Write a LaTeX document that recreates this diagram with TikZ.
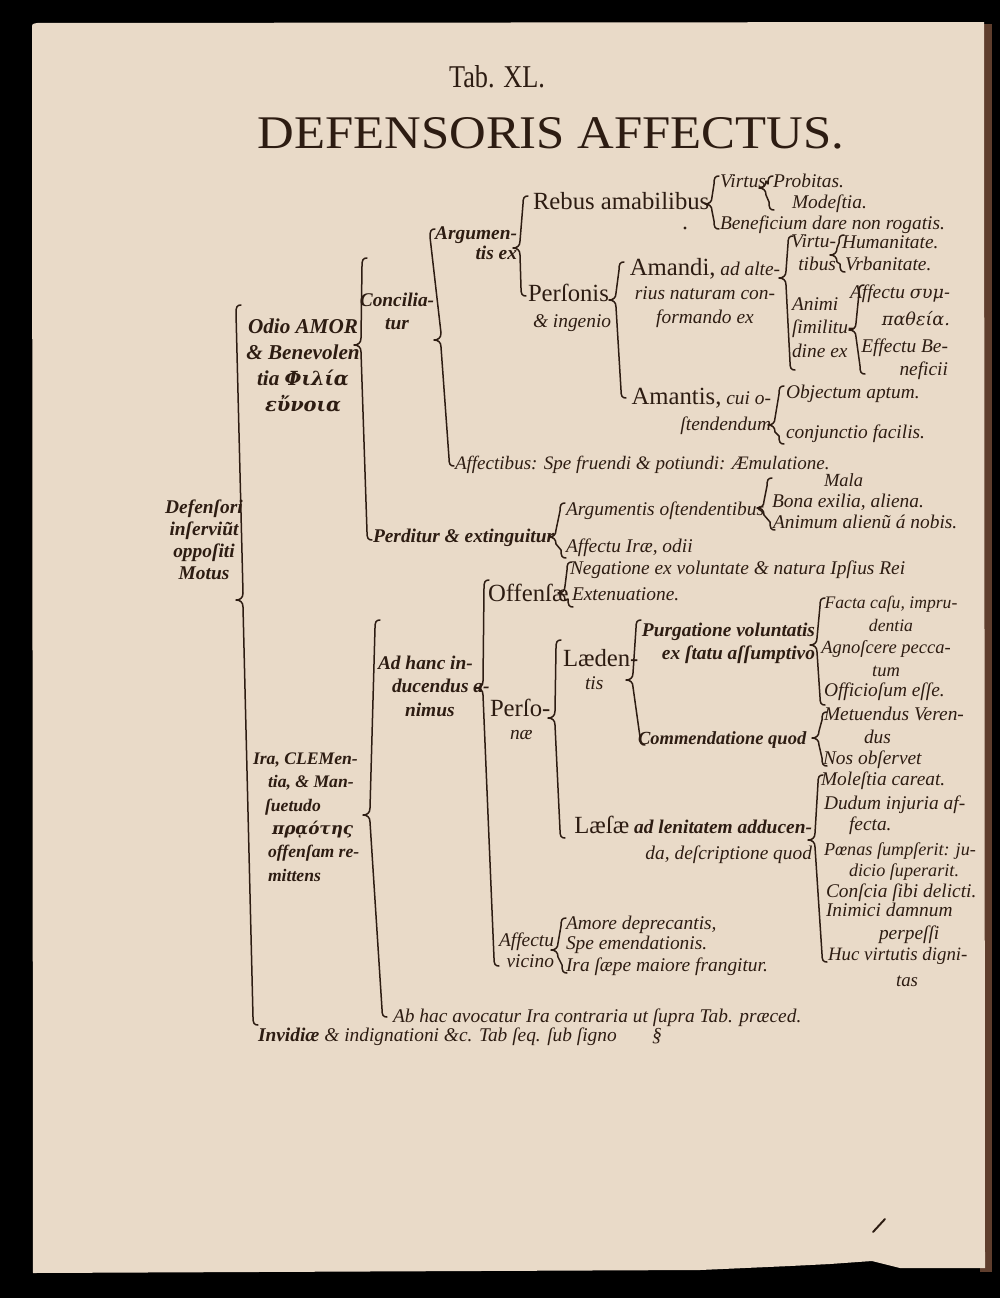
\documentclass[tikz,border=0pt]{standalone}
\usepackage{fontspec}
\usepackage{graphicx}
\setmainfont{Liberation Serif}
\newfontfamily\grk{DejaVu Serif}
\definecolor{paper}{RGB}{233,218,200}
\definecolor{ink}{RGB}{45,28,18}
\definecolor{edge}{RGB}{95,62,45}
\newdimen\px \px=0.5669pt
% brace: xt yt xm ym xb yb
\newcommand\brc[6]{%
\draw[brc] (#1+5,#2) .. controls (#1+1,#2) and (#1,#2+2) .. (#1,#2+8) -- (#3,#4-7)
 .. controls (#3,#4-2) and (#3-3,#4) .. (#3-7,#4)
 .. controls (#3-3,#4) and (#3,#4+2) .. (#3,#4+7) -- (#5,#6-8)
 .. controls (#5,#6-2) and (#5+1,#6) .. (#5+5,#6);}
\begin{document}
\begin{tikzpicture}[x=0.5669pt,y=-0.5669pt,
  t/.style={inner sep=0pt,outer sep=0pt,text=ink,anchor=base west},
  it/.style={t,font=\fontsize{11}{12.5}\selectfont\itshape},
  bi/.style={t,font=\fontsize{11}{12.5}\selectfont\bfseries\itshape},
  up/.style={t,font=\fontsize{14}{14.2}\selectfont},
  brc/.style={draw=ink,line width=0.85pt,line cap=round,line join=round}]
\useasboundingbox (0,0) rectangle (1000,1298);
\fill[black] (0,0) rectangle (1000,1298);
\fill[edge] (980,24) rectangle (992,1272);
\fill[paper] (32,28) .. controls (32,24) .. (37,23) -- (984,22) -- (985,1268)
  -- (900,1268) -- (872,1261) -- (830,1264) -- (790,1266) -- (700,1270) -- (33,1273) -- cycle;
% small marks on the page
\fill[ink] (685,228) circle (1.6);
\draw[ink,line width=1.1pt,line cap=round] (873,1232) -- (885,1219);

% title
\node[t,anchor=base] (tab) at (497,87) {\resizebox{96\px}{22\px}{Tab. XL.}};
\node[t,anchor=base] (title) at (551,148) {\resizebox{587\px}{31\px}{DEFENSORIS AFFECTUS.}};

% braces
\brc{236}{305}{243}{600}{253}{1025}
\brc{362}{258}{361}{345}{367}{540}
\brc{430}{229}{441}{340}{449}{466}
\brc{523}{196}{520}{248}{521}{296}
\brc{714}{176}{712}{204}{714}{229}
\brc{768}{176}{766}{188}{769}{210}
\brc{619}{262}{616}{300}{621}{398}
\brc{788}{236}{786}{278}{790}{370}
\brc{839}{235}{837}{255}{840}{272}
\brc{859}{285}{856}{330}{860}{374}
\brc{779}{386}{775}{425}{779}{444}
\brc{560}{503}{556}{537}{561}{558}
\brc{767}{478}{764}{508}{770}{530}
\brc{567}{562}{565}{593}{568}{607}
\brc{375}{620}{370}{815}{382}{1017}
\brc{484}{580}{483}{688}{494}{966}
\brc{556}{640}{555}{718}{560}{838}
\brc{636}{620}{633}{680}{640}{745}
\brc{820}{598}{817}{645}{820}{705}
\brc{822}{712}{819}{738}{822}{766}
\brc{818}{775}{815}{840}{822}{962}
\brc{561}{918}{558}{950}{562}{973}

% root (multi-line nodes: base = last line)
\node[bi,align=center,anchor=base,font=\fontsize{11}{12.3}\selectfont\bfseries\itshape] (def) at (204,579) {Defenſori\\inſerviũt\\oppoſiti\\Motus};
% amor branch
\node[bi,align=center,anchor=base,font=\fontsize{12}{14.7}\selectfont\bfseries\itshape] (amor) at (303,411) {Odio AMOR\\\& Benevolen\\tia {\grk\fontsize{11}{14.7}\selectfont Φιλία}\\{\grk\fontsize{11}{14.7}\selectfont εὔνοια}};
\node[bi,align=center,anchor=base,font=\fontsize{11}{13}\selectfont\bfseries\itshape] (concil) at (397,329) {Concilia-\\tur};
\node[bi,align=right,anchor=base east,font=\fontsize{11}{11.3}\selectfont\bfseries\itshape] (argex) at (517,259) {Argumen-\\tis ex};
\node[up] (rebus) at (533,209) {Rebus amabilibus};
\node[it] (virtus) at (720,187) {Virtus};
\node[it] (probitas) at (773,187) {Probitas.};
\node[it] (modestia) at (792,208) {Modeſtia.};
\node[it] (benef) at (720,229) {Beneficium dare non rogatis.};
\node[up,align=left] (personis) at (528,327) {Perſonis\\\hspace*{5\px}{\itshape\fontsize{11}{14.2}\selectfont\& ingenio}};
\node[it,align=center,anchor=base,font=\fontsize{11}{13.6}\selectfont\itshape] (amandi) at (705,323) {{\upshape\fontsize{14}{13.6}\selectfont Amandi,} ad alte-\\rius naturam con-\\formando ex};
\node[it,align=right,anchor=base east] (virtu) at (836,270) {Virtu-\\tibus};
\node[it] (human) at (842,248) {Humanitate.};
\node[it] (urban) at (845,270) {Vrbanitate.};
\node[it,align=left,font=\fontsize{11}{13.3}\selectfont\itshape] (animi) at (792,357) {Animi\\ſimilitu-\\dine ex};
\node[it,align=right,anchor=base east,font=\fontsize{11}{15.3}\selectfont\itshape] (sympath) at (950,325) {Affectu {\grk\fontsize{10}{15.3}\selectfont συμ-}\\{\grk\fontsize{10}{15.3}\selectfont παθεία.}};
\node[it,align=right,anchor=base east] (benefic) at (948,375) {Effectu Be-\\neficii};
\node[it,align=right,anchor=base east,font=\fontsize{11}{14.2}\selectfont\itshape] (amantis) at (771,430) {{\upshape\fontsize{14}{14.2}\selectfont Amantis,} cui o-\\ſtendendum};
\node[it] (object) at (786,398) {Objectum aptum.};
\node[it] (conj) at (786,438) {conjunctio facilis.};
\node[it,font=\fontsize{10.8}{12.5}\selectfont\itshape] (affectibus) at (455,469) {Affectibus: Spe fruendi \& potiundi: Æmulatione.};
\node[bi] (perditur) at (373,542) {Perditur \& extinguitur};
\node[it] (argost) at (566,515) {Argumentis oſtendentibus};
\node[it,font=\fontsize{10.5}{12.5}\selectfont\itshape] (mala) at (824,486) {Mala};
\node[it] (bona) at (772,507) {Bona exilia, aliena.};
\node[it] (animum) at (773,528) {Animum alienũ á nobis.};
\node[it] (affira) at (566,552) {Affectu Iræ, odii};
% ira branch
\node[it] (negat) at (570,574) {Negatione ex voluntate \& natura Ipſius Rei};
\node[up] (offensae) at (488,601) {Offenſæ};
\node[it] (extenu) at (572,600) {Extenuatione.};
\node[bi,align=left,font=\fontsize{10}{13.2}\selectfont\bfseries\itshape] (ira) at (253,881) {Ira, CLEMen-\\\hspace*{15\px}tia, \& Man-\\\hspace*{12\px}ſuetudo\\\hspace*{19\px}{\grk\fontsize{9.5}{13.2}\selectfont πρᾳότης}\\\hspace*{15\px}offenſam re-\\\hspace*{15\px}mittens};
\node[bi,align=left,font=\fontsize{11}{13.3}\selectfont\bfseries\itshape] (adhanc) at (378,716) {Ad hanc in-\\\hspace*{14\px}ducendus a-\\\hspace*{27\px}nimus};
\node[up,align=left,font=\fontsize{14}{13}\selectfont] (personae) at (490,739) {Perſo-\\\hspace*{20\px}{\itshape\fontsize{11}{13}\selectfont næ}};
\node[up,align=left,font=\fontsize{14}{13}\selectfont] (laedentis) at (563,689) {Læden-\\\hspace*{22\px}{\itshape\fontsize{11}{13}\selectfont tis}};
\node[bi,align=right,anchor=base east] (purg) at (815,659) {Purgatione voluntatis\\ex ſtatu aſſumptivo};
\node[bi,font=\fontsize{10.5}{12.5}\selectfont\bfseries\itshape] (comm) at (638,744) {Commendatione quod};
\node[it,align=center,anchor=base,font=\fontsize{10}{12.5}\selectfont\itshape] (facta) at (891,631) {Facta caſu, impru-\\dentia};
\node[it,align=center,anchor=base,font=\fontsize{10.5}{12.5}\selectfont\itshape] (agno) at (886,676) {Agnoſcere pecca-\\tum};
\node[it] (offic) at (824,696) {Officioſum eſſe.};
\node[it,align=left] (metu) at (824,743) {Metuendus Veren-\\\hspace*{40\px}dus};
\node[it] (nos) at (823,764) {Nos obſervet};
\node[bi,align=right,anchor=base east,font=\fontsize{11}{14.2}\selectfont\bfseries\itshape] (laesae) at (812,859) {{\mdseries\upshape\fontsize{14}{14.2}\selectfont Læſæ} ad lenitatem adducen-\\{\mdseries da, deſcriptione quod}};
\node[it] (molest) at (821,785) {Moleſtia careat.};
\node[it,align=left,font=\fontsize{11}{11.9}\selectfont\itshape] (dudum) at (824,830) {Dudum injuria af-\\\hspace*{25\px}fecta.};
\node[it,align=left,font=\fontsize{10.3}{11.9}\selectfont\itshape] (poenas) at (824,876) {Pœnas ſumpſerit: ju-\\\hspace*{25\px}dicio ſuperarit.};
\node[it] (consc) at (826,897) {Conſcia ſibi delicti.};
\node[it,align=left] (inim) at (826,939) {Inimici damnum\\\hspace*{53\px}perpeſſi};
\node[it,align=left,font=\fontsize{10.7}{14.2}\selectfont\itshape] (huc) at (828,986) {Huc virtutis digni-\\\hspace*{68\px}tas};
\node[it,align=right,anchor=base east,font=\fontsize{11}{11.9}\selectfont\itshape] (affvic) at (554,967) {Affectu\\vicino};
\node[it] (amore) at (566,929) {Amore deprecantis,};
\node[it] (spe) at (566,949) {Spe emendationis.};
\node[it] (irasaepe) at (566,971) {Ira ſæpe maiore frangitur.};
\node[it] (abhac) at (393,1022) {Ab hac avocatur Ira contraria ut ſupra Tab. præced.};
\node[it] (invid) at (258,1041) {{\bfseries Invidiæ} \& indignationi \&c. Tab ſeq. ſub ſigno};
\node[it] (sign) at (652,1041) {§};
\end{tikzpicture}
\end{document}
